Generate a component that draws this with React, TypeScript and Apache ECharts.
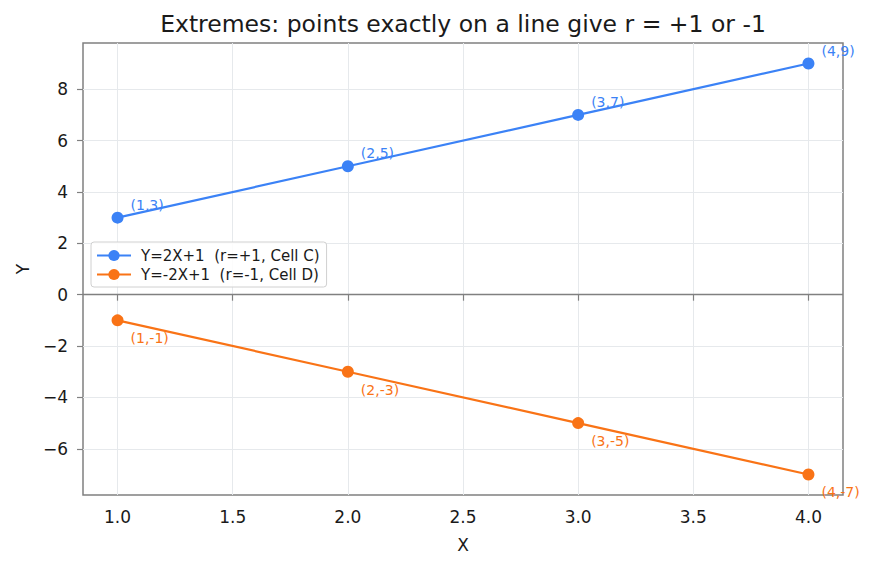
import React, { useEffect, useRef } from "react";
import * as echarts from "echarts";

// Data: two perfectly linear series
const xValues = [1, 2, 3, 4];
const yPositive = [3, 5, 7, 9]; // Y = 2X + 1
const yNegative = [-1, -3, -5, -7]; // Y = -2X + 1

const seriesNames = ["Y=2X+1  (r=+1, Cell C)", "Y=-2X+1  (r=-1, Cell D)"];
const xTicks = [1.0, 1.5, 2.0, 2.5, 3.0, 3.5, 4.0];
const yTicks = [-6, -4, -2, 0, 2, 4, 6, 8];

const titleText = "Extremes: points exactly on a line give r = +1 or -1";

const BLUE = "#3b82f6";
const ORANGE = "#f97316";
const SPINE = "#808080";
const FONT = "DejaVu Sans";

export default function App() {
  const ref = useRef<HTMLDivElement>(null);

  useEffect(() => {
    if (!ref.current) return;
    const chart = echarts.init(ref.current, undefined, { renderer: "svg" });

    const posData = xValues.map((x, i) => [x, yPositive[i]]);
    const negData = xValues.map((x, i) => [x, yNegative[i]]);
    const fmtMinus = (v: number) => (v < 0 ? "\u2212" + Math.abs(v) : String(v));

    chart.setOption({
      animation: false,
      backgroundColor: "#ffffff",
      textStyle: { fontFamily: FONT },
      title: {
        text: titleText,
        left: 458,
        textAlign: "center",
        top: 7,
        textStyle: { fontFamily: FONT, fontSize: 23.5, fontWeight: "normal", color: "#1a1a1a" },
      },
      grid: {
        left: 83,
        right: 33,
        top: 43,
        bottom: 74,
        show: true,
        borderColor: SPINE,
        borderWidth: 1.5,
        backgroundColor: "transparent",
      },
      legend: {
        left: 91,
        top: 242,
        orient: "vertical",
        backgroundColor: "rgba(255,255,255,0.85)",
        borderColor: "#d0d0d0",
        borderWidth: 1,
        borderRadius: 3,
        padding: [6, 7, 5, 5],
        itemWidth: 34,
        itemHeight: 14,
        itemGap: 4,
        textStyle: {
          fontFamily: FONT,
          fontSize: 15,
          color: "#1a1a1a",
          padding: [0, 0, 0, 5],
        },
        data: seriesNames,
      },
      xAxis: {
        type: "value",
        min: 0.85,
        max: 4.15,
        name: "X",
        nameLocation: "middle",
        nameGap: 41,
        nameTextStyle: { fontFamily: FONT, fontSize: 17, color: "#1a1a1a" },
        axisLine: { show: false },
        axisTick: {
          show: true,
          length: 6,
          customValues: xTicks,
          lineStyle: { color: SPINE, width: 1.2 },
        },
        axisLabel: {
          customValues: xTicks,
          margin: 13,
          fontFamily: FONT,
          fontSize: 17,
          color: "#1a1a1a",
          formatter: (v: number) => v.toFixed(1),
        },
        splitLine: { show: true, lineStyle: { color: "#e6e9ec", width: 1 } },
      },
      yAxis: {
        type: "value",
        min: -7.8,
        max: 9.8,
        name: "Y",
        nameLocation: "middle",
        nameGap: 52,
        nameTextStyle: { fontFamily: FONT, fontSize: 17, color: "#1a1a1a" },
        axisLine: { show: false },
        axisTick: {
          show: true,
          length: 6,
          customValues: yTicks,
          lineStyle: { color: SPINE, width: 1.2 },
        },
        axisLabel: {
          customValues: yTicks,
          margin: 15,
          fontFamily: FONT,
          fontSize: 17,
          color: "#1a1a1a",
          formatter: fmtMinus,
        },
        splitLine: { show: true, lineStyle: { color: "#e6e9ec", width: 1 } },
      },
      series: [
        {
          name: seriesNames[0],
          type: "line",
          data: posData,
          symbol: "circle",
          symbolSize: 12,
          color: BLUE,
          lineStyle: { color: BLUE, width: 2.2 },
          itemStyle: { color: BLUE },
          label: {
            show: true,
            position: "right",
            distance: 7,
            offset: [0, -13],
            fontFamily: FONT,
            fontSize: 14,
            color: BLUE,
            formatter: (p: any) => `(${p.value[0]},${p.value[1]})`,
          },
          markLine: {
            silent: true,
            symbol: "none",
            label: { show: false },
            lineStyle: { color: SPINE, width: 1.3, type: "solid" },
            data: [{ yAxis: 0 }],
          },
          z: 3,
        },
        {
          name: seriesNames[1],
          type: "line",
          data: negData,
          symbol: "circle",
          symbolSize: 12,
          color: ORANGE,
          lineStyle: { color: ORANGE, width: 2.2 },
          itemStyle: { color: ORANGE },
          label: {
            show: true,
            position: "right",
            distance: 7,
            offset: [0, 18],
            fontFamily: FONT,
            fontSize: 14,
            color: ORANGE,
            formatter: (p: any) => `(${p.value[0]},${p.value[1]})`,
          },
          z: 3,
        },
      ],
    });

    return () => chart.dispose();
  }, []);

  return <div ref={ref} style={{ width: 876, height: 569, margin: -8 }} />;
}
